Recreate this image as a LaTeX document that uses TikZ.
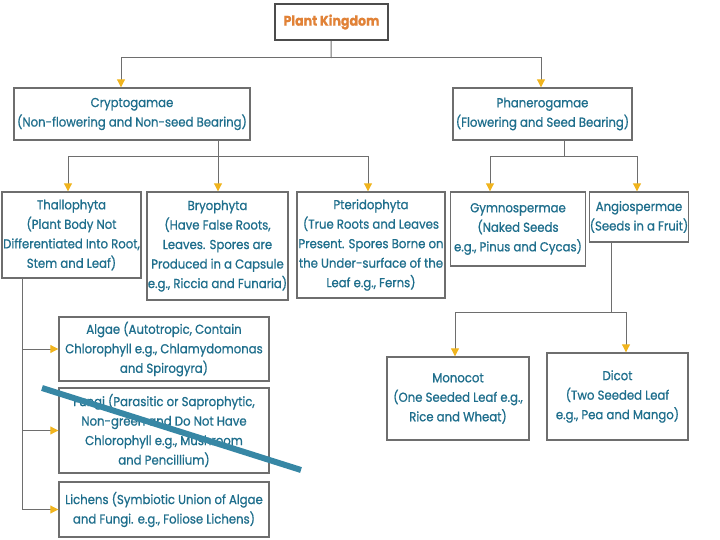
\documentclass[tikz,border=0pt]{standalone}
\usepackage{fontspec}
\setmainfont{Poppins}[FakeStretch=0.9, FakeBold=0.8]
\usetikzlibrary{arrows.meta}

\definecolor{boxgrey}{RGB}{110,110,110}
\definecolor{textblue}{RGB}{30,110,140}
\definecolor{titleorange}{RGB}{225,130,55}
\definecolor{tipyellow}{RGB}{240,180,30}
\definecolor{slashteal}{RGB}{55,135,165}

\begin{document}
\begin{tikzpicture}[
    x=1pt, y=-1pt,
    box/.style={rectangle, draw=boxgrey, line width=1.4pt, fill=white,
                inner sep=0pt, align=center, text=textblue,
                font=\fontsize{13}{19.5}\selectfont},
    title/.style={box, draw=black!70, line width=2pt, text=titleorange,
                  font=\fontsize{14}{18}\selectfont\bfseries},
    line/.style={draw=boxgrey, line width=1pt},
    arrow/.style={line, -{Triangle[length=8pt, width=8pt, color=tipyellow]}}
]
\useasboundingbox (0,0) rectangle (720,540);

\node (pk) [title, minimum width=113pt, minimum height=36pt] at (331.5,22) {Plant Kingdom};

\node (cr) [box, minimum width=236pt, minimum height=52pt] at (132,114)
    {Cryptogamae\\(Non-flowering and Non-seed Bearing)};
\node (ph) [box, minimum width=179pt, minimum height=52pt] at (542.5,114)
    {Phanerogamae\\(Flowering and Seed Bearing)};

\node (th) [box, minimum width=139pt, minimum height=86pt] at (71.5,235)
    {Thallophyta\\(Plant Body Not\\Differentiated Into Root,\\Stem and Leaf)};
\node (br) [box, minimum width=141pt, minimum height=108pt] at (217.5,246)
    {Bryophyta\\(Have False Roots,\\Leaves. Spores are\\Produced in a Capsule\\e.g., Riccia and Funaria)};
\node (pt) [box, minimum width=148pt, minimum height=106pt] at (371,245)
    {Pteridophyta\\(True Roots and Leaves\\Present. Spores Borne on\\the Under-surface of the\\Leaf e.g., Ferns)};
\node (gy) [box, minimum width=135pt, minimum height=74pt] at (518,229)
    {Gymnospermae\\(Naked Seeds\\e.g., Pinus and Cycas)};
\node (an) [box, minimum width=96pt, minimum height=50pt] at (639,217)
    {Angiospermae\\(Seeds in a Fruit)};

\node (mo) [box, minimum width=142pt, minimum height=83pt] at (458,398.5)
    {Monocot\\(One Seeded Leaf e.g.,\\Rice and Wheat)};
\node (di) [box, minimum width=141pt, minimum height=87pt] at (617.5,396.5)
    {Dicot\\(Two Seeded Leaf\\e.g., Pea and Mango)};

\node (al) [box, minimum width=210pt, minimum height=64pt] at (164,349)
    {Algae (Autotropic, Contain\\Chlorophyll e.g., Chlamydomonas\\and Spirogyra)};
\node (fu) [box, minimum width=210pt, minimum height=85pt] at (164,430.5)
    {Fungi (Parasitic or Saprophytic,\\Non-green and Do Not Have\\Chlorophyll e.g., Mushroom\\and Pencillium)};
\node (li) [box, minimum width=210pt, minimum height=55pt] at (164,509.5)
    {Lichens (Symbiotic Union of Algae\\and Fungi. e.g., Foliose Lichens)};

% top level
\coordinate (pkj) at (331,58);
\draw [line] (pk) -- (pkj);
\draw [arrow] (pkj) -| ([xshift=-11pt]cr.north);
\draw [arrow] (pkj) -| ([xshift=-1.5pt]ph.north);

% cryptogamae
\coordinate (crj) at (218,157);
\draw [line] (crj |- cr.south) -- (crj);
\draw [arrow] (crj) -| ([xshift=-3.5pt]th.north);
\draw [arrow] (crj) -- (crj |- br.north);
\draw [arrow] (crj) -| ([xshift=-3pt]pt.north);

% phanerogamae
\coordinate (phj) at (564,157);
\draw [line] (phj |- ph.south) -- (phj);
\draw [arrow] (phj) -| ([xshift=-28pt]gy.north);
\draw [arrow] (phj) -| ([xshift=-2pt]an.north);

% angiospermae
\coordinate (anj) at (611,312);
\draw [line] (anj |- an.south) -- (anj);
\draw [arrow] (anj) -| ([xshift=-3pt]mo.north);
\draw [arrow] (anj) -| ([xshift=8.5pt]di.north);

% thallophyta
\coordinate (thl) at (22,509.5);
\draw [line] (thl |- th.south) -- (thl);
\draw [arrow] (thl |- al.west) -- (al.west);
\draw [arrow] (thl |- fu.west) -- (fu.west);
\draw [arrow] (thl) -- (li.west);

% stroke across fungi
\draw [slashteal, line width=6pt] (42,388) -- (301,470);

\end{tikzpicture}
\end{document}
